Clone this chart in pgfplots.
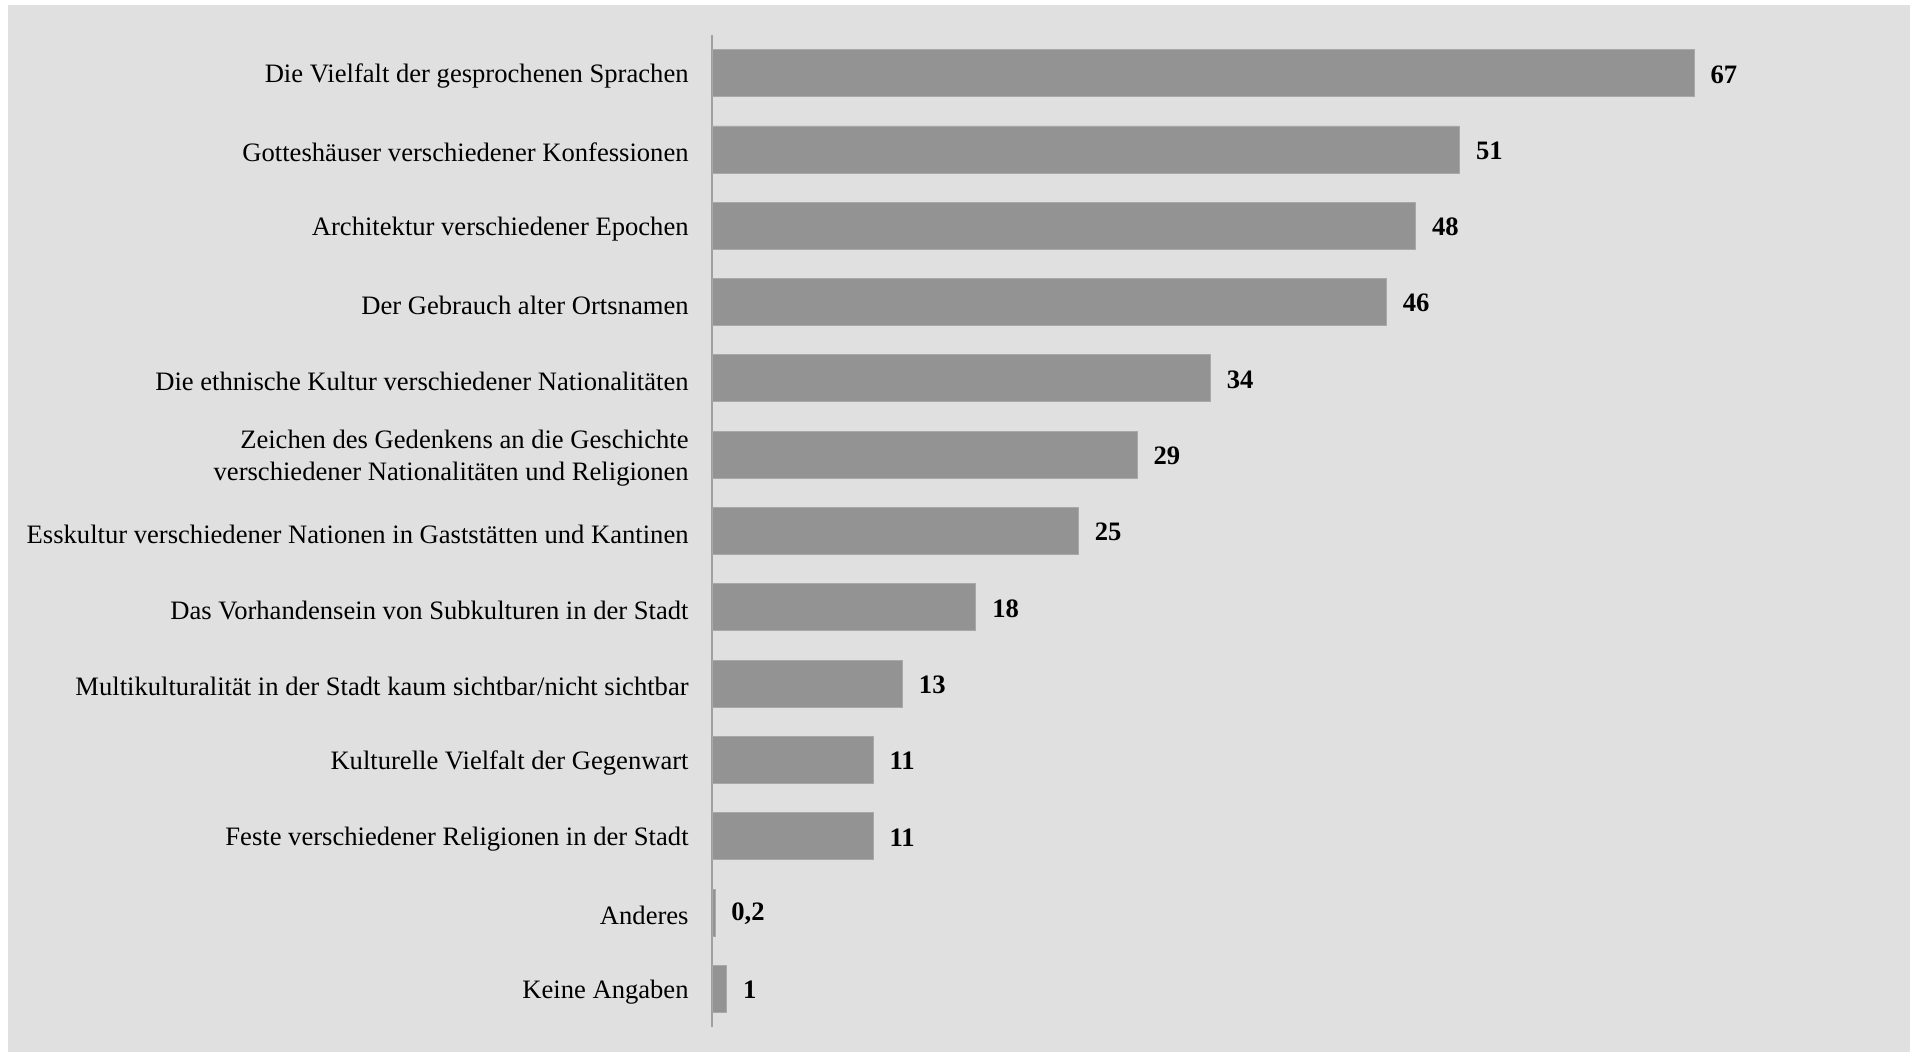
\documentclass[border=0pt]{standalone}
\usepackage{pgfplots}
\pgfplotsset{compat=1.18}
\usepackage{pgfplotstable}
\usepackage{fontspec}
\setmainfont{Liberation Serif}
\definecolor{bg}{HTML}{E0E0E0}
\definecolor{barfill}{HTML}{939393}
\definecolor{baredge}{HTML}{A8A8A8}
\definecolor{axisgray}{HTML}{A0A0A0}
\pgfplotstableread{
y x lab
0 67 67
1 51 51
2 48 48
3 46 46
4 34 34
5 29 29
6 25 25
7 18 18
8 13 13
9 11 11
10 11 11
11 0.2 0,2
12 1 1
}\datatable
\begin{document}
\begin{tikzpicture}
\fill[white] (-356pt,-12.5pt) rectangle (599pt,513.5pt);
\fill[bg] (-352pt,-12.5pt) rectangle (599pt,511pt);
\begin{axis}[at={(0,0)}, anchor=south west, scale only axis,
  width=586.4pt, height=496pt,
  xbar, bar width=23.5pt, xmin=0, xmax=80, ymin=-0.5, ymax=12.5, y dir=reverse,
  axis x line=none, axis y line*=left,
  axis line style={axisgray, line width=1pt},
  ytick={0,...,12},
  yticklabels={
    Die Vielfalt der gesprochenen Sprachen,
    Gotteshäuser verschiedener Konfessionen,
    Architektur verschiedener Epochen,
    Der Gebrauch alter Ortsnamen,
    Die ethnische Kultur verschiedener Nationalitäten,
    {Zeichen des Gedenkens an die Geschichte\\verschiedener Nationalitäten und Religionen},
    Esskultur verschiedener Nationen in Gaststätten und Kantinen,
    Das Vorhandensein von Subkulturen in der Stadt,
    Multikulturalität in der Stadt kaum sichtbar/nicht sichtbar,
    Kulturelle Vielfalt der Gegenwart,
    Feste verschiedener Religionen in der Stadt,
    Anderes,
    Keine Angaben},
  major tick length=0pt,
  yticklabel style={align=right, inner sep=0pt, yshift=-1.5pt, font=\fontsize{13.3}{16}\selectfont},
  yticklabel shift=11.5pt,
  nodes near coords, point meta=explicit symbolic,
  nodes near coords style={anchor=west, inner sep=0pt, xshift=8pt, yshift=-0.6pt, font=\fontsize{13.3}{16}\selectfont\bfseries},
  clip=false]
\addplot[fill=barfill, draw=baredge, line width=0.4pt] table[x=x, y=y, meta=lab] {\datatable};
\end{axis}
\pgfresetboundingbox
\useasboundingbox (-356pt,-12.5pt) rectangle (599pt,513.5pt);
\end{tikzpicture}
\end{document}
